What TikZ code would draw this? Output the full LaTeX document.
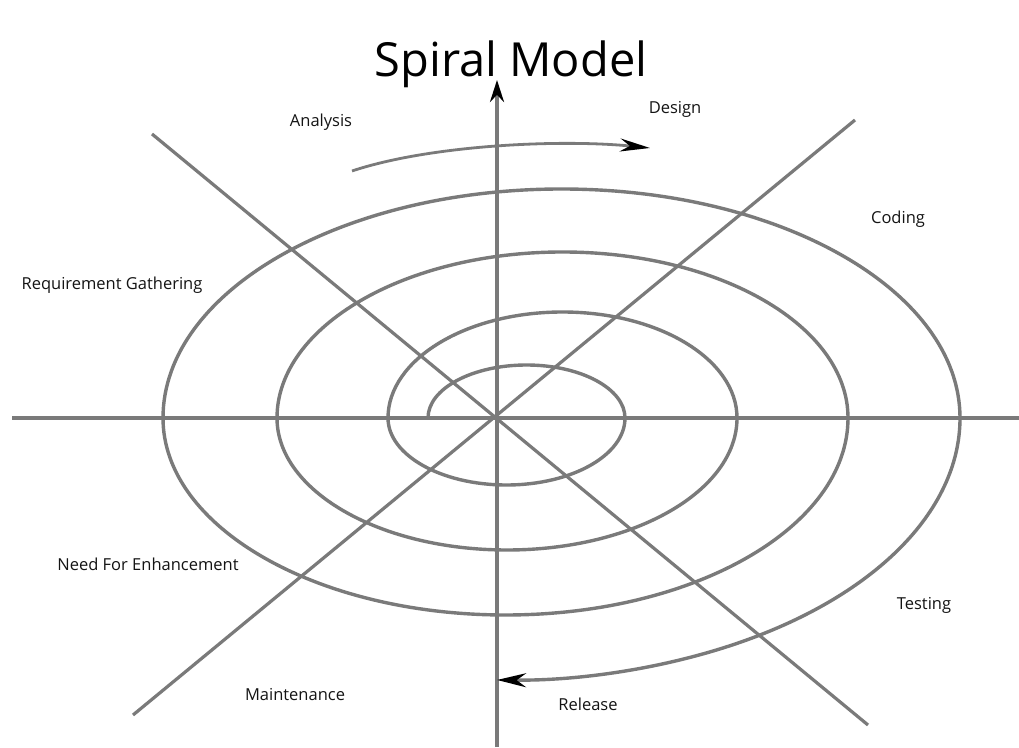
\documentclass[tikz,border=0pt]{standalone}
\usepackage{fontspec}
\setmainfont{Open Sans}
\usetikzlibrary{arrows.meta}
\definecolor{linegray}{RGB}{122,122,122}
\definecolor{txt}{RGB}{20,20,20}
\begin{document}
\begin{tikzpicture}[x=1pt,y=1pt,
  axisline/.style={draw=linegray, line width=3.2pt},
  spiralline/.style={draw=linegray, line width=3.4pt},
  lbl/.style={font=\fontsize{16.5}{18}\selectfont, text=txt, inner sep=0pt},
  titlelbl/.style={font=\fontsize{47}{50}\selectfont, text=black, inner sep=0pt},
  bigtip/.style={-{Stealth[length=29pt,width=14pt,color=black]}},
]
\useasboundingbox (0,0) rectangle (1019,747);
\fill[white] (0,0) rectangle (1019,747);

% axes
\coordinate (c) at (497,329);
\coordinate (west) at (12,329);
\coordinate (east) at (1019,329);
\coordinate (south) at (497,0);
\coordinate (north) at (497,667);
\coordinate (nw) at (152,613);
\coordinate (se) at (868,22);
\coordinate (ne) at (855,627);
\coordinate (sw) at (133,32);

\draw[axisline] (west) -- (east);
\draw[axisline, -{Stealth[length=22pt,width=14pt,color=black]}] (south) -- (north);
\draw[axisline] (nw) -- (se);
\draw[axisline] (ne) -- (sw);

% spiral
\coordinate (sstart) at (428,329);
\draw[spiralline, bigtip] (sstart)
  arc[start angle=180, end angle=0,    x radius=98.5,  y radius=53]
  arc[start angle=0,   end angle=-180, x radius=118.5, y radius=67]
  arc[start angle=180, end angle=0,    x radius=174.5, y radius=106]
  arc[start angle=0,   end angle=-180, x radius=230,   y radius=132]
  arc[start angle=180, end angle=0,    x radius=285.5, y radius=166]
  arc[start angle=0,   end angle=-180, x radius=342.5, y radius=197]
  arc[start angle=180, end angle=0,    x radius=398.5, y radius=229]
  arc[start angle=0,   end angle=-91,  x radius=455,   y radius=262];

% top arrow
\coordinate (ta) at (352,576);
\coordinate (tb) at (650,599);
\draw[draw=linegray, line width=2.8pt, -{Stealth[length=30pt,width=13pt,color=black]}]
  (ta) .. controls (430,602) and (560,608) .. (tb);

% title and labels
\node[titlelbl, anchor=base] (title) at (511,670) {Spiral Model};
\node[lbl] (analysis) at (321,625) {Analysis};
\node[lbl] (design) at (675,638) {Design};
\node[lbl] (coding) at (898,528) {Coding};
\node[lbl] (req) at (112,462) {Requirement Gathering};
\node[lbl] (need) at (148,183) {Need For Enhancement};
\node[lbl] (maint) at (295,52) {Maintenance};
\node[lbl] (testing) at (924,142) {Testing};
\node[lbl] (release) at (588,43) {Release};
\end{tikzpicture}
\end{document}
